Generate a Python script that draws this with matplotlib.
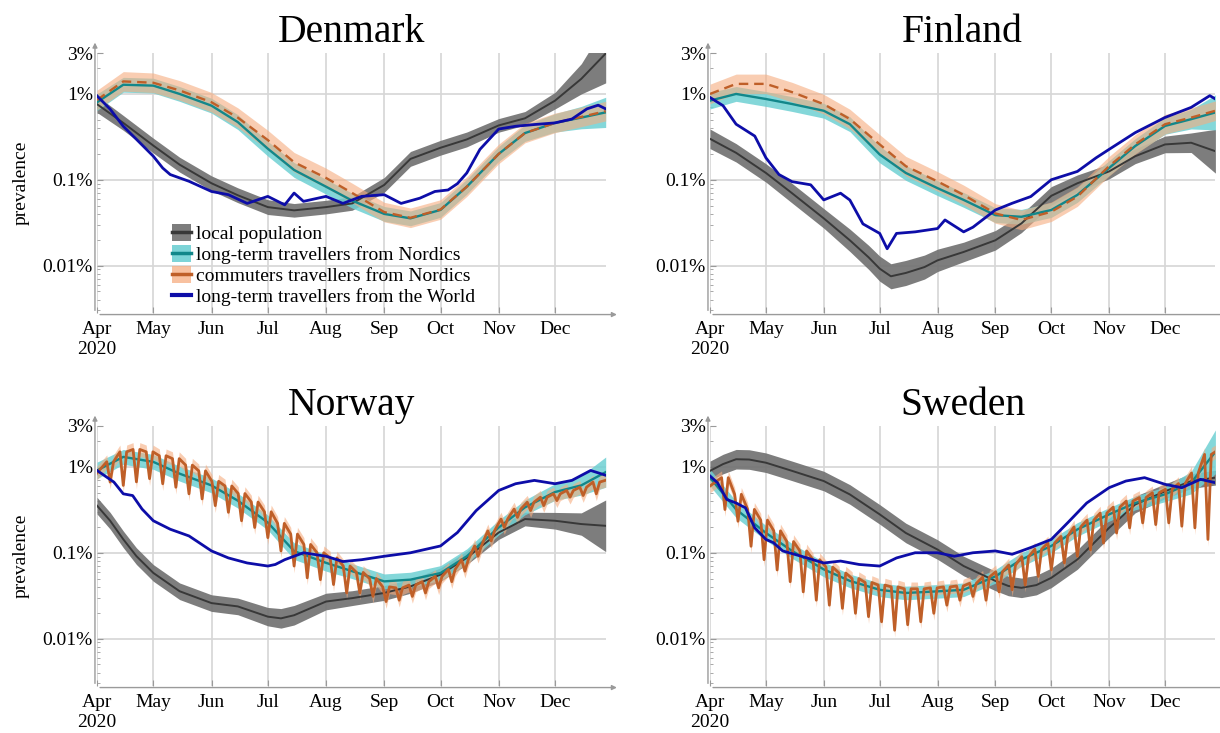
import numpy as np
import matplotlib
matplotlib.use("Agg")
import matplotlib.pyplot as plt
import matplotlib.dates as mdates
from matplotlib.patches import Patch
from matplotlib.lines import Line2D
from matplotlib.ticker import FixedLocator, LogLocator, NullFormatter, FuncFormatter

plt.rcParams['font.family'] = ['Liberation Serif', 'DejaVu Serif']

# ---------------- data (prevalence in %) ----------------
# days after 2020-04-01
grid_days = [0, 14, 30, 44, 61, 75, 91, 105, 122, 136, 153, 167, 183, 197, 214, 228, 244, 258, 271]

# Denmark
dk_local_days = grid_days
dk_local = [0.76, 0.46, 0.25, 0.15, 0.091, 0.066, 0.048, 0.044, 0.048, 0.053, 0.087, 0.175, 0.236, 0.295, 0.43, 0.52, 0.835, 1.5, 2.96]
dk_local_spread = [1.25, 1.22, 1.22, 1.22, 1.22, 1.22, 1.22, 1.2, 1.2, 1.2, 1.22, 1.22, 1.22, 1.22, 1.2, 1.2, 1.25, 1.5, 2.2]
dk_nordic = [0.8, 1.28, 1.25, 1.0, 0.73, 0.47, 0.23, 0.13, 0.083, 0.057, 0.04, 0.0355, 0.0445, 0.083, 0.2, 0.35, 0.46, 0.53, 0.61]
dk_nordic_spread = [1.25, 1.22, 1.22, 1.22, 1.22, 1.22, 1.22, 1.22, 1.22, 1.22, 1.22, 1.22, 1.22, 1.22, 1.22, 1.25, 1.28, 1.35, 1.5]
dk_commute = [0.85, 1.4, 1.35, 1.1, 0.8, 0.53, 0.29, 0.16, 0.105, 0.07, 0.042, 0.036, 0.045, 0.083, 0.2, 0.35, 0.46, 0.54, 0.63]
dk_world_days = [0, 7, 14, 21, 30, 35, 39, 49, 61, 70, 80, 91, 100, 105, 110, 122, 131, 141, 153, 162, 172, 180, 187, 192, 197, 204, 214, 223, 233, 244, 253, 261, 267, 271]
dk_world = [0.95, 0.665, 0.42, 0.296, 0.188, 0.137, 0.115, 0.096, 0.073, 0.067, 0.053, 0.064, 0.051, 0.07, 0.056, 0.064, 0.053, 0.064, 0.067, 0.053, 0.061, 0.073, 0.076, 0.09, 0.12, 0.226, 0.39, 0.42, 0.44, 0.46, 0.51, 0.67, 0.74, 0.67]

# Finland
fi_local_days = [0, 14, 30, 44, 61, 75, 85, 91, 97, 105, 115, 122, 136, 153, 167, 183, 197, 214, 228, 244, 258, 271]
fi_local = [0.3, 0.206, 0.12, 0.0697, 0.0355, 0.0197, 0.0125, 0.0092, 0.0075, 0.0082, 0.0096, 0.0115, 0.0144, 0.0197, 0.031, 0.065, 0.091, 0.125, 0.188, 0.258, 0.27, 0.215]
fi_local_spread = [1.3, 1.28, 1.28, 1.3, 1.3, 1.35, 1.38, 1.4, 1.4, 1.4, 1.38, 1.35, 1.3, 1.3, 1.28, 1.28, 1.25, 1.22, 1.22, 1.25, 1.3, 1.8]
fi_nordic = [0.835, 1.0, 0.873, 0.763, 0.637, 0.444, 0.197, 0.12, 0.0798, 0.0582, 0.0387, 0.037, 0.0444, 0.0666, 0.137, 0.247, 0.424, 0.508, 0.609]
fi_nordic_spread = [1.25, 1.22, 1.22, 1.22, 1.22, 1.22, 1.25, 1.22, 1.22, 1.22, 1.22, 1.22, 1.22, 1.22, 1.22, 1.22, 1.25, 1.3, 1.6]
fi_commute = [1.0, 1.31, 1.31, 1.05, 0.76, 0.51, 0.258, 0.144, 0.0956, 0.0666, 0.0405, 0.034, 0.0424, 0.0637, 0.144, 0.258, 0.444, 0.53, 0.637]
fi_world_days = [0, 7, 14, 24, 30, 37, 44, 54, 61, 70, 75, 82, 91, 95, 100, 110, 122, 126, 136, 141, 153, 162, 172, 183, 197, 207, 214, 228, 244, 258, 268, 271]
fi_world = [0.91, 0.73, 0.444, 0.323, 0.18, 0.115, 0.095, 0.0873, 0.0582, 0.0697, 0.058, 0.0306, 0.0237, 0.0157, 0.0237, 0.0247, 0.027, 0.034, 0.0247, 0.028, 0.0444, 0.0532, 0.0637, 0.1, 0.125, 0.18, 0.226, 0.354, 0.532, 0.697, 0.955, 0.873]

# Norway
no_local_days = [0, 7, 14, 21, 30, 44, 61, 75, 91, 98, 105, 122, 136, 153, 167, 183, 197, 214, 228, 244, 258, 271]
no_local = [0.354, 0.236, 0.1435, 0.0913, 0.0582, 0.0356, 0.0259, 0.0237, 0.018, 0.0172, 0.0187, 0.027, 0.0296, 0.034, 0.0405, 0.0556, 0.0873, 0.172, 0.247, 0.236, 0.216, 0.206]
no_local_spread = [1.25, 1.25, 1.25, 1.25, 1.25, 1.25, 1.25, 1.25, 1.28, 1.3, 1.3, 1.25, 1.22, 1.22, 1.2, 1.2, 1.2, 1.2, 1.2, 1.25, 1.35, 2.0]
no_nordic = [0.91, 1.31, 1.145, 0.835, 0.609, 0.405, 0.225, 0.1045, 0.0763, 0.0609, 0.0464, 0.0486, 0.058, 0.091, 0.197, 0.338, 0.51, 0.61, 0.87]
no_nordic_spread = [1.25, 1.22, 1.22, 1.22, 1.22, 1.22, 1.22, 1.25, 1.25, 1.22, 1.22, 1.22, 1.22, 1.22, 1.22, 1.22, 1.25, 1.3, 1.5]
no_world_days = [0, 9, 14, 19, 24, 30, 39, 49, 61, 70, 80, 91, 95, 100, 110, 122, 131, 141, 153, 167, 183, 192, 202, 214, 223, 233, 244, 253, 263, 271]
no_world = [0.91, 0.666, 0.486, 0.464, 0.323, 0.236, 0.188, 0.157, 0.105, 0.087, 0.076, 0.07, 0.073, 0.083, 0.1, 0.091, 0.079, 0.083, 0.091, 0.1, 0.12, 0.172, 0.31, 0.532, 0.637, 0.697, 0.637, 0.697, 0.91, 0.8]
# commuters: weekly peaks / dips
no_comm_first_day = 7
no_comm_start, no_comm_end = 0.85, 0.7
no_comm_hi = [1.15, 1.5, 1.6, 1.5, 1.35, 1.25, 1.05, 0.9, 0.68, 0.6, 0.49, 0.39, 0.3, 0.22, 0.165, 0.125, 0.1, 0.087, 0.07, 0.059, 0.05, 0.04, 0.039, 0.042, 0.046, 0.053, 0.064, 0.083, 0.12, 0.18, 0.247, 0.323, 0.388, 0.444, 0.486, 0.532, 0.58, 0.666]
no_comm_lo = [0.666, 0.609, 0.67, 0.73, 0.637, 0.58, 0.486, 0.424, 0.354, 0.296, 0.236, 0.197, 0.15, 0.105, 0.07, 0.051, 0.0486, 0.0426, 0.034, 0.034, 0.031, 0.027, 0.028, 0.031, 0.034, 0.039, 0.046, 0.061, 0.091, 0.137, 0.197, 0.258, 0.31, 0.354, 0.405, 0.444, 0.464, 0.486]

# Sweden
se_local_days = [0, 7, 14, 21, 30, 44, 61, 75, 91, 105, 122, 136, 153, 160, 167, 175, 183, 197, 214, 228, 244, 258, 271]
se_local = [0.9, 1.08, 1.23, 1.22, 1.12, 0.9, 0.685, 0.478, 0.28, 0.17, 0.109, 0.07, 0.047, 0.041, 0.039, 0.042, 0.051, 0.0835, 0.195, 0.365, 0.52, 0.685, 0.75]
se_local_spread = [1.3, 1.3, 1.3, 1.3, 1.3, 1.3, 1.3, 1.3, 1.3, 1.3, 1.3, 1.3, 1.3, 1.3, 1.3, 1.3, 1.3, 1.3, 1.3, 1.25, 1.22, 1.22, 1.22]
se_nordic = [0.75, 0.32, 0.17, 0.105, 0.064, 0.047, 0.037, 0.034, 0.0355, 0.037, 0.053, 0.0835, 0.12, 0.187, 0.28, 0.38, 0.48, 0.655, 1.5]
se_nordic_spread = [1.25, 1.25, 1.22, 1.22, 1.22, 1.2, 1.2, 1.2, 1.2, 1.2, 1.2, 1.2, 1.2, 1.2, 1.2, 1.2, 1.22, 1.35, 1.8]
se_world_days = [0, 4, 9, 14, 19, 24, 30, 34, 39, 49, 61, 70, 80, 91, 100, 110, 122, 131, 141, 153, 162, 172, 183, 192, 202, 214, 223, 233, 244, 253, 263, 271]
se_world = [0.785, 0.655, 0.418, 0.38, 0.334, 0.195, 0.143, 0.131, 0.105, 0.091, 0.076, 0.08, 0.073, 0.07, 0.087, 0.1, 0.1, 0.091, 0.1, 0.105, 0.096, 0.115, 0.143, 0.226, 0.38, 0.573, 0.685, 0.75, 0.627, 0.573, 0.717, 0.655]
se_comm_first_day = 8
se_comm_start, se_comm_end = 0.6, 1.5
se_comm_hi = [0.75, 0.48, 0.32, 0.24, 0.18, 0.135, 0.105, 0.083, 0.068, 0.058, 0.05, 0.045, 0.042, 0.04, 0.038, 0.038, 0.039, 0.04, 0.041, 0.044, 0.052, 0.06, 0.072, 0.09, 0.11, 0.13, 0.155, 0.2, 0.24, 0.29, 0.34, 0.4, 0.44, 0.5, 0.55, 0.64, 0.85, 1.4]
se_comm_lo = [0.319, 0.233, 0.119, 0.083, 0.063, 0.046, 0.035, 0.028, 0.0245, 0.0225, 0.0197, 0.018, 0.0157, 0.0125, 0.0145, 0.0157, 0.0197, 0.0245, 0.028, 0.031, 0.028, 0.035, 0.037, 0.042, 0.053, 0.063, 0.076, 0.091, 0.108, 0.13, 0.17, 0.195, 0.223, 0.213, 0.223, 0.204, 0.195, 0.143]

legend_labels = ["local population", "long-term travellers from Nordics",
                 "commuters travellers from Nordics", "long-term travellers from the World"]
ytick_vals = [0.01, 0.1, 1, 3]
ytick_labels = ["0.01%", "0.1%", "1%", "3%"]

# ---------------- style ----------------
C_GREY_BAND, C_GREY_LINE = "#6f6f6f", "#383838"
C_TEAL_BAND, C_TEAL_LINE = "#6fd0d3", "#12878a"
C_OR_BAND, C_OR_LINE = "#f6ad80", "#bf5f28"
C_BLUE = "#0d0da8"
C_GRID = "#d6d6d6"
C_AXIS = "#9a9a9a"

base = np.datetime64("2020-04-01T00")
END_DAY = 271


def to_dates(days):
    hrs = np.round(np.asarray(days, dtype=float) * 24).astype(int)
    return base + hrs.astype("timedelta64[h]")


def weekly_series(first_day, start, end, hi, lo):
    days, vals = [0], [start]
    for k, (h, l) in enumerate(zip(hi, lo)):
        d = first_day + 7 * k
        days += [d - 1.8, d, d + 1.8]
        vals += [h, l, h]
    days.append(END_DAY)
    vals.append(end)
    return np.array(days), np.array(vals)


def month_fmt(x, pos):
    d = mdates.num2date(x)
    s = d.strftime("%b")
    if d.month == 4:
        s += "\n2020"
    return s


def panel(ax, title, local_days, local, local_sp, nordic, nordic_sp, comm_days, comm, comm_sp,
          world_days, world, dashed, ylabel):
    g = to_dates(grid_days)
    ld = to_dates(local_days)
    local = np.array(local); local_sp = np.array(local_sp)
    nordic = np.array(nordic); nordic_sp = np.array(nordic_sp)
    comm = np.array(comm)
    cd = to_dates(comm_days)

    ax.fill_between(ld, local / local_sp, local * local_sp, color=C_GREY_BAND, alpha=0.9, lw=0, zorder=2)
    ax.fill_between(g, nordic / nordic_sp, nordic * nordic_sp, color=C_TEAL_BAND, alpha=0.85, lw=0, zorder=3)
    ax.fill_between(cd, comm / comm_sp, comm * comm_sp, color=C_OR_BAND, alpha=0.6, lw=0, zorder=4)
    ax.plot(ld, local, color=C_GREY_LINE, lw=1.4, zorder=5)
    ax.plot(g, nordic, color=C_TEAL_LINE, lw=1.7, zorder=6)
    if dashed:
        ax.plot(cd, comm, color=C_OR_LINE, lw=1.7, dashes=(4, 2.5), zorder=7)
    else:
        ax.plot(cd, comm, color=C_OR_LINE, lw=2.0, zorder=7)
    ax.plot(to_dates(world_days), world, color=C_BLUE, lw=2.0, zorder=8)

    ax.set_yscale("log")
    ax.set_ylim(0.0028, 3)
    ax.set_xlim(to_dates([0])[0], to_dates([END_DAY])[0])
    ax.yaxis.set_major_locator(FixedLocator(ytick_vals))
    ax.set_yticklabels(ytick_labels)
    ax.yaxis.set_minor_locator(LogLocator(base=10, subs=np.arange(2, 10)))
    ax.yaxis.set_minor_formatter(NullFormatter())
    ax.xaxis.set_major_locator(mdates.MonthLocator())
    ax.xaxis.set_major_formatter(FuncFormatter(month_fmt))
    ax.tick_params(axis="both", which="major", labelsize=14, direction="in", length=4,
                   color=C_AXIS, pad=3)
    ax.tick_params(axis="y", which="minor", direction="in", length=2.5, color=C_AXIS)
    ax.tick_params(axis="x", which="major", pad=6)
    for s in ax.spines.values():
        s.set_visible(False)
    ax.grid(axis="x", color=C_GRID, lw=1.2)
    for v in [0.01, 0.1, 1]:
        ax.axhline(v, color=C_GRID, lw=1.2, zorder=0)
    ax.set_axisbelow(True)
    ax.annotate("", xy=(-0.004, 1.04), xytext=(-0.004, 0.01), xycoords="axes fraction",
                arrowprops=dict(arrowstyle="-|>", color=C_AXIS, lw=1.0, mutation_scale=7,
                                shrinkA=0, shrinkB=0), annotation_clip=False)
    ax.annotate("", xy=(1.022, -0.006), xytext=(0.006, -0.006), xycoords="axes fraction",
                arrowprops=dict(arrowstyle="-|>", color=C_AXIS, lw=1.0, mutation_scale=7,
                                shrinkA=0, shrinkB=0), annotation_clip=False)
    ax.set_title(title, fontsize=28.5, pad=8)
    if ylabel:
        ax.set_ylabel("prevalence", fontsize=14)
        ax.yaxis.set_label_coords(-0.133, 0.5)


fig = plt.figure(figsize=(12.2, 7.33), dpi=100)
W, H = 1220.0, 733.0
axL_x, axL_w = 97 / W, 508.7 / W
axR_x, axR_w = 710 / W, 505.4 / W
top_y, bot_y, ah = 420 / H, 47 / H, 260 / H

ax_dk = fig.add_axes([axL_x, top_y, axL_w, ah])
ax_fi = fig.add_axes([axR_x, top_y, axR_w, ah])
ax_no = fig.add_axes([axL_x, bot_y, axL_w, ah])
ax_se = fig.add_axes([axR_x, bot_y, axR_w, ah])

panel(ax_dk, "Denmark", dk_local_days, dk_local, dk_local_spread, dk_nordic, dk_nordic_spread,
      grid_days, dk_commute, 1.3, dk_world_days, dk_world, True, True)
panel(ax_fi, "Finland", fi_local_days, fi_local, fi_local_spread, fi_nordic, fi_nordic_spread,
      grid_days, fi_commute, 1.3, fi_world_days, fi_world, True, False)
nd, nv = weekly_series(no_comm_first_day, no_comm_start, no_comm_end, no_comm_hi, no_comm_lo)
panel(ax_no, "Norway", no_local_days, no_local, no_local_spread, no_nordic, no_nordic_spread,
      nd, nv, 1.2, no_world_days, no_world, False, True)
sd, sv = weekly_series(se_comm_first_day, se_comm_start, se_comm_end, se_comm_hi, se_comm_lo)
panel(ax_se, "Sweden", se_local_days, se_local, se_local_spread, se_nordic, se_nordic_spread,
      sd, sv, 1.2, se_world_days, se_world, False, False)

handles = [
    (Patch(facecolor=C_GREY_BAND, alpha=0.9), Line2D([], [], color=C_GREY_LINE, lw=2.5)),
    (Patch(facecolor=C_TEAL_BAND, alpha=0.9), Line2D([], [], color=C_TEAL_LINE, lw=2.5)),
    (Patch(facecolor=C_OR_BAND, alpha=0.75), Line2D([], [], color=C_OR_LINE, lw=2.5)),
    Line2D([], [], color=C_BLUE, lw=3),
]
ax_dk.legend(handles, legend_labels, loc="upper left", bbox_to_anchor=(0.148, 0.342),
             frameon=False, fontsize=14, handlelength=0.95, handleheight=0.95,
             handletextpad=0.25, labelspacing=0.1, borderpad=0, borderaxespad=0)

fig.savefig("out.png", dpi=100)
